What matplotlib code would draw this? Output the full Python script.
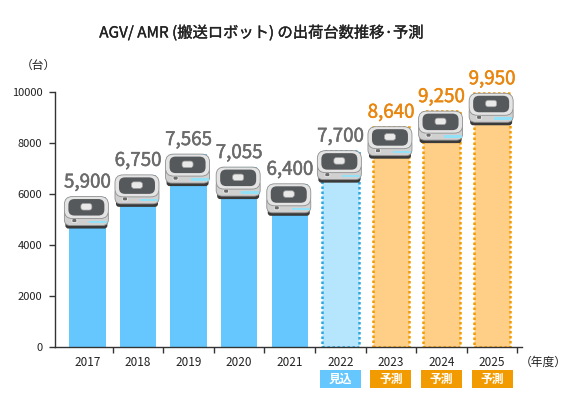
import matplotlib
matplotlib.use("Agg")
import matplotlib.pyplot as plt
import matplotlib.transforms as mtransforms
import matplotlib.patheffects as pe
from matplotlib.patches import FancyBboxPatch, Rectangle

plt.rcParams["font.family"] = ["Noto Sans CJK JP", "DejaVu Sans"]

years = ["2017", "2018", "2019", "2020", "2021", "2022", "2023", "2024", "2025"]
values = [5900, 6750, 7565, 7055, 6400, 7700, 8640, 9250, 9950]
kinds = ["actual"] * 5 + ["estimate"] + ["forecast"] * 3
badges = {"estimate": "見込", "forecast": "予測"}

BLUE = "#66C7FF"
BLUE_LIGHT = "#B5E6FD"
BLUE_EDGE = "#2AA7E0"
ORANGE_FILL = "#FFCF87"
ORANGE_EDGE = "#F29B00"
ORANGE_TEXT = "#E8860F"
GRAY_TEXT = "#6b6b6b"
DARK = "#333333"

fig = plt.figure(figsize=(5.72, 4.0), dpi=100)
ax = fig.add_axes([55 / 572, 53 / 400, 467 / 572, 255 / 400])

x = list(range(len(years)))
fills = {"actual": BLUE, "estimate": BLUE_LIGHT, "forecast": ORANGE_FILL}
edges = {"actual": "none", "estimate": BLUE_EDGE, "forecast": ORANGE_EDGE}

for i, (v, k) in enumerate(zip(values, kinds)):
    if k == "actual":
        ax.bar(i, v, width=0.72, color=fills[k], edgecolor="none", zorder=2)
    else:
        ax.bar(i, v, width=0.72, color=fills[k], edgecolor=edges[k],
               linewidth=1.8, linestyle=(0, (1, 1)), zorder=2)

ax.set_xlim(-0.64, 8.59)
ax.set_ylim(0, 10000)
ax.set_yticks(range(0, 10001, 2000))
ax.set_xticks([i + 0.5 for i in x])
ax.set_xticklabels([])
ax.tick_params(axis="y", length=4, width=1, color=DARK, labelsize=8, labelcolor="#222222", pad=5)
ax.tick_params(axis="x", length=4, width=1, color=DARK)
for s in ["top", "right"]:
    ax.spines[s].set_visible(False)
for s in ["left", "bottom"]:
    ax.spines[s].set_color(DARK)
    ax.spines[s].set_linewidth(1)

for i, y in enumerate(years):
    ax.annotate(y, (i, 0), xytext=(0, -15 * 0.72), textcoords="offset points",
                ha="center", va="center", fontsize=8.5, color="#222222",
                annotation_clip=False)


def px_trans(xc, yv):
    # pixel offsets around a data point
    return mtransforms.Affine2D().scale(fig.dpi / 100) + \
        mtransforms.ScaledTranslation(xc, yv, ax.transData)


def rbox(x0, y0, x1, y1, r, fc, ec="none", lw=0.6, trans=None):
    return FancyBboxPatch((x0, y0), x1 - x0, y1 - y0,
                          boxstyle=f"round,pad=0,rounding_size={r}",
                          fc=fc, ec=ec, lw=lw, transform=trans)


def robot(xc, top):
    t = px_trans(xc, top)
    parts = [
        rbox(-22, -32, 20, -25, 3, "#3a3a3a", trans=t),
        rbox(-23, -29, 21, -12, 6, "#d0d0d0", ec="#8f8f8f", trans=t),
        Rectangle((2, -26.5), 18, 2.4, fc="#93e1f7", ec="none", transform=t),
        rbox(-15.5, -26, -10.5, -22, 1.5, "#6a6a6a", ec="#f0f0f0", lw=0.6, trans=t),
        rbox(-23, -22, 21, 0, 8, "#e4e4e4", ec="#8f8f8f", trans=t),
        rbox(-19, -19, 17, -2.5, 6, "#56595b", trans=t),
        rbox(-6.5, -13.5, 4.5, -7, 2.5, "#e9e9e9", ec="#a0a0a0", lw=0.5, trans=t),
    ]
    for p in parts:
        p.set_clip_on(False)
        p.set_zorder(4)
        ax.add_patch(p)


for i, (v, k) in enumerate(zip(values, kinds)):
    robot(i, v)
    c = ORANGE_TEXT if k == "forecast" else GRAY_TEXT
    ax.annotate(f"{v:,}", (i, v), xytext=(0, 6.5), textcoords="offset points",
                ha="center", va="baseline", fontsize=13.5, color=c,
                annotation_clip=False, zorder=5,
                path_effects=[pe.withStroke(linewidth=0.35, foreground=c)])
    if k in badges:
        t = px_trans(i, 0)
        badge = Rectangle((-20.5, -41), 41, 18, fc=BLUE if k == "estimate" else ORANGE_EDGE,
                          ec="none", transform=t, clip_on=False)
        ax.add_patch(badge)
        ax.annotate(badges[k], (i, 0), xytext=(0, -32 * 0.72), textcoords="offset points",
                    ha="center", va="center", fontsize=8.5, color="white", fontweight="bold",
                    annotation_clip=False)

fig.text(261 / 572, 1 - 33 / 400, "AGV/ AMR (搬送ロボット) の出荷台数推移·予測",
         ha="center", va="center", fontsize=11, color="#222222",
         path_effects=[pe.withStroke(linewidth=0.25, foreground="#222222")])
fig.text(38 / 572, 1 - 65 / 400, "（台）", ha="center", va="center", fontsize=8.5, color="#222222")
fig.text(543 / 572, 1 - 362 / 400, "（年度）", ha="center", va="center", fontsize=8.5, color="#222222")

fig.savefig("out.png", dpi=100)
